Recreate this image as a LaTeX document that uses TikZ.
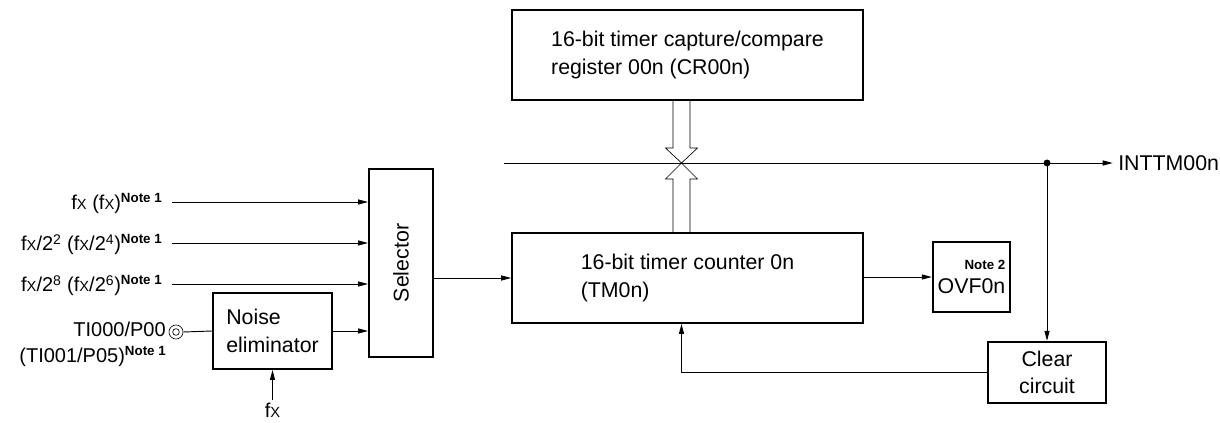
\documentclass[tikz,border=0pt]{standalone}
\usepackage{fontspec}
\setmainfont{Liberation Sans}
\usepackage{tikz}
\usetikzlibrary{arrows.meta,positioning,calc}
\newcommand{\fX}{f{\fontsize{11}{11}\selectfont X}}
\newcommand{\noteone}{\raisebox{0.7ex}{\fontsize{10}{10}\selectfont\bfseries Note 1}}

\begin{document}
\begin{tikzpicture}[x=0.75pt, y=-0.75pt,
  font=\fontsize{16}{20.5}\selectfont,
  block/.style={draw, line width=1.5pt, inner sep=2pt, align=left},
  arrow/.style={-{Triangle[length=7.5pt, width=3.8pt]}, line width=0.7pt},
  wire/.style={line width=0.7pt},
  bus/.style={line width=0.5pt},
  lbl/.style={inner sep=0pt, anchor=base east, font=\fontsize{15}{19.5}\selectfont}
]
  \useasboundingbox (0,0) rectangle (1220,423);

  % Blocks
  \node[block, minimum width=263pt, minimum height=67.5pt] (cr) at (687.5,55)
    {16-bit timer capture/compare\\register 00n (CR00n)};
  \node[block, minimum width=263pt, minimum height=67.5pt] (cnt) at (687.5,278)
    {16-bit timer counter 0n\\(TM0n)};
  \node[block, minimum width=48pt, minimum height=141pt] (sel) at (401,263) {};
  \node[rotate=90] at (sel.center) {Selector};
  \node[block, minimum width=89pt, minimum height=57pt] (noise) at (272.5,331)
    {Noise\\eliminator};
  \node[block, minimum width=58pt, minimum height=52.5pt, align=right] (ovf) at (971.5,277)
    {{\fontsize{10}{10}\selectfont\bfseries Note 2}\\[-3pt]OVF0n};
  \node[block, minimum width=88.5pt, minimum height=46pt, align=center] (clr) at (1047,372.5)
    {Clear\\circuit};

  % Inputs
  \coordinate (in1) at (172,202);
  \coordinate (in2) at (172,243);
  \coordinate (in3) at (172,284);
  \node[lbl] (l1) at (162,210) {\fX{} (\fX)\noteone};
  \node[lbl] (l2) at (162,251) {\fX/2\textsuperscript{2} (\fX/2\textsuperscript{4})\noteone};
  \node[lbl] (l3) at (162,292) {\fX/2\textsuperscript{8} (\fX/2\textsuperscript{6})\noteone};
  \draw[arrow] (in1) -- (in1 -| sel.west);
  \draw[arrow] (in2) -- (in2 -| sel.west);
  \draw[arrow] (in3) -- (in3 -| sel.west);

  % Pin and noise eliminator
  \node[circle, draw, line width=0.5pt, minimum size=10.5pt, inner sep=0pt] (pin) at (176,332) {};
  \node[circle, draw, line width=0.5pt, minimum size=5pt, inner sep=0pt] at (pin) {};
  \node[lbl, anchor=north east, align=right] (ti) at (166,322)
    {TI000/P00\\(TI001/P05)\noteone\hspace{3pt}};
  \draw[wire] (pin.east) -- (noise.west);
  \draw[arrow] (noise.east) -- (noise.east -| sel.west);
  \coordinate (fxin) at (272.5,400);
  \node[inner sep=0pt, anchor=base, font=\fontsize{15}{15}\selectfont] (fx) at (272.5,418) {\fX};
  \draw[arrow] (fxin) -- (noise.south);

  % Counter path
  \draw[arrow] (sel.east |- cnt.west) -- (cnt.west);
  \draw[arrow] (cnt.east |- ovf.west) -- (ovf.west);

  % Bus crossing
  \coordinate (x) at (681.5,163);
  \draw[bus] ($(x)+(-8.5,-63)$) -- ($(x)+(-8.5,-15)$) -- ($(x)+(-16,-15)$) -- (x)
    -- ($(x)+(16,-15)$) -- ($(x)+(8.5,-15)$) -- ($(x)+(8.5,-63)$);
  \draw[bus] ($(x)+(-8.5,70)$) -- ($(x)+(-8.5,16)$) -- ($(x)+(-16,16)$) -- (x)
    -- ($(x)+(16,16)$) -- ($(x)+(8.5,16)$) -- ($(x)+(8.5,70)$);

  % Interrupt line
  \coordinate (bus0) at (504,163);
  \coordinate (dot) at (1047,163);
  \node[inner sep=0pt, anchor=west] (int) at (1118,163) {INTTM00n};
  \draw[arrow] (bus0) -- ([xshift=-4pt]int.west);
  \fill (dot) circle (2.6pt);
  \draw[arrow] (dot) -- (clr.north);

  % Clear feedback
  \draw[arrow] (clr.west) -| (x |- cnt.south);
\end{tikzpicture}
\end{document}
